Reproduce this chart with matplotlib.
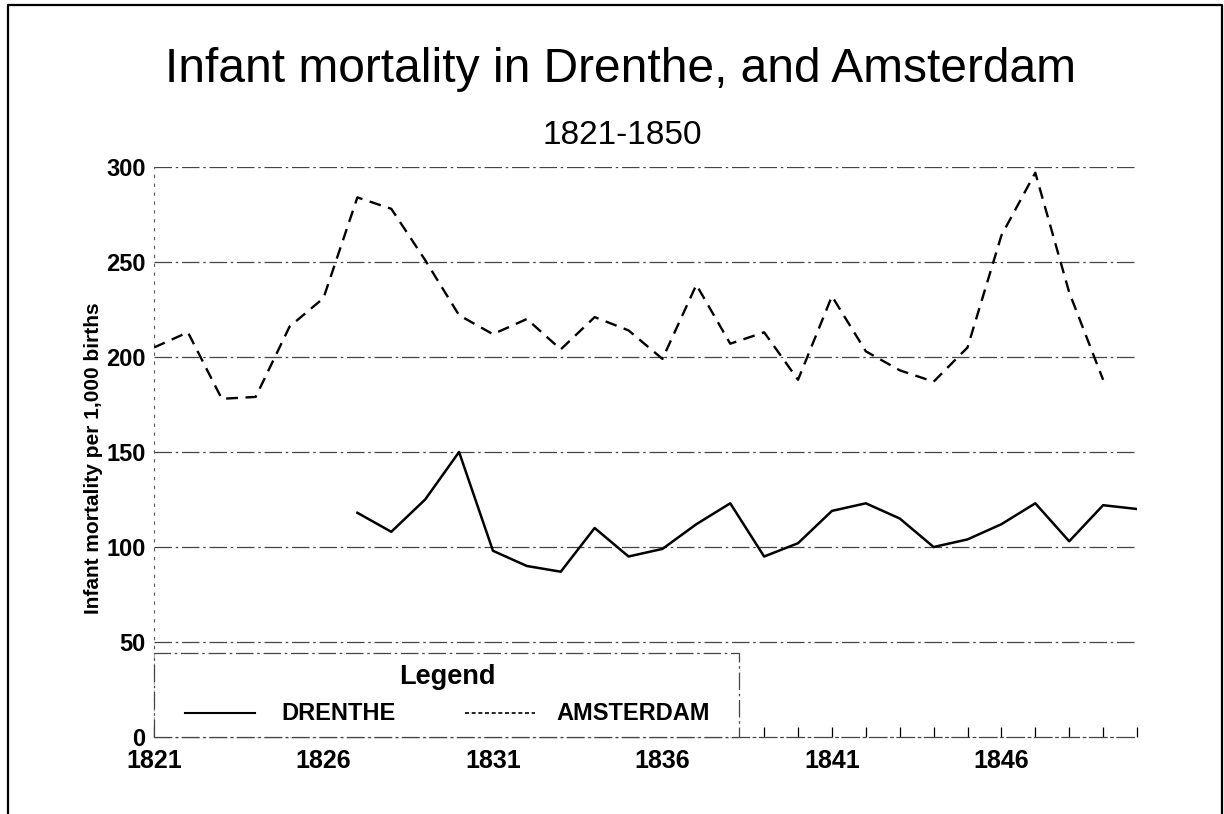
import matplotlib.pyplot as plt
from matplotlib.lines import Line2D
from matplotlib.patches import Rectangle

plt.rcParams['font.family'] = ['Liberation Sans', 'DejaVu Sans']

# ===== data =====
years_ams = list(range(1821, 1850))
amsterdam = [205, 213, 178, 179, 216, 231, 284, 278, 251, 222,
             212, 220, 204, 221, 214, 199, 238, 207, 213, 188,
             232, 203, 193, 187, 205, 264, 297, 234, 188]

years_dre = list(range(1827, 1851))
drenthe = [118, 108, 125, 150, 98, 90, 87, 110, 95, 99,
           112, 123, 95, 102, 119, 123, 115, 100, 104, 112,
           123, 103, 122, 120]

x_ticks = [1821, 1826, 1831, 1836, 1841, 1846]
y_ticks = [0, 50, 100, 150, 200, 250, 300]
series_names = ["DRENTHE", "AMSTERDAM"]

# ===== figure =====
fig = plt.figure(figsize=(12.24, 8.14), dpi=100)
ax = fig.add_axes([154 / 1224, 1 - 737 / 814, (1137 - 154) / 1224, (737 - 167) / 814])

grid_ls = (0, (14, 3, 2, 3))
ams_ls = (0, (5, 3.2))
for y in y_ticks[1:]:
    ax.axhline(y, color="#444444", lw=0.9, ls=grid_ls, zorder=1)

ax.plot(years_ams, amsterdam, color="black", lw=1.7, ls=ams_ls, zorder=3)
ax.plot(years_dre, drenthe, color="black", lw=1.8, ls="-", zorder=3)

ax.set_xlim(1821, 1850)
ax.set_ylim(0, 300)
ax.set_xticks(x_ticks)
ax.set_xticks(range(1821, 1851), minor=True)
ax.set_yticks(y_ticks)
ax.tick_params(axis="x", which="both", direction="in", length=7, width=0.9,
               pad=9, labelsize=18)
ax.tick_params(axis="y", length=0, pad=6, labelsize=17)
for lab in ax.get_xticklabels() + ax.get_yticklabels():
    lab.set_fontweight("bold")

for side in ("top", "right"):
    ax.spines[side].set_visible(False)
ax.spines["left"].set_linestyle((0, (2, 6)))
ax.spines["left"].set_linewidth(0.8)
ax.spines["left"].set_color("#555555")
ax.spines["bottom"].set_linestyle(grid_ls)
ax.spines["bottom"].set_linewidth(0.9)
ax.spines["bottom"].set_color("#444444")

ax.set_ylabel("Infant mortality per 1,000 births", fontsize=15,
              fontweight="bold")
ax.yaxis.set_label_coords(-0.052, 0.49)

# legend box drawn by hand (layout as in the scan)
ax.add_patch(Rectangle((0.0, 0.0), 0.595, 0.147, transform=ax.transAxes,
                       facecolor="white", edgecolor="#444444", lw=0.9,
                       ls=grid_ls, zorder=5, clip_on=False))
ax.text(0.298, 0.105, "Legend", transform=ax.transAxes, ha="center",
        va="center", fontsize=19.5, fontweight="bold", zorder=6)
ax.add_line(Line2D([0.0315, 0.1027], [0.042, 0.042], transform=ax.transAxes,
                   color="black", lw=1.5, ls="-", zorder=6))
ax.text(0.130, 0.042, series_names[0], transform=ax.transAxes, ha="left",
        va="center", fontsize=17, fontweight="bold", zorder=6)
ax.add_line(Line2D([0.316, 0.388], [0.042, 0.042], transform=ax.transAxes,
                   color="black", lw=1.2, ls=(0, (2.4, 1.6)), zorder=6))
ax.text(0.409, 0.042, series_names[1], transform=ax.transAxes, ha="left",
        va="center", fontsize=17, fontweight="bold", zorder=6)

fig.text(0.507, 1 - 82 / 814, "Infant mortality in Drenthe, and Amsterdam",
         ha="center", va="baseline", fontsize=34.5)
fig.text(0.508, 1 - 144 / 814, "1821-1850", ha="center", va="baseline",
         fontsize=24)

# page frame of the scan
fig.add_artist(Line2D([8 / 1224, 8 / 1224, 1222 / 1224, 1222 / 1224],
                      [0, 1 - 5 / 814, 1 - 5 / 814, 0],
                      transform=fig.transFigure, color="black", lw=1.6))

fig.savefig("out.png", dpi=100)
